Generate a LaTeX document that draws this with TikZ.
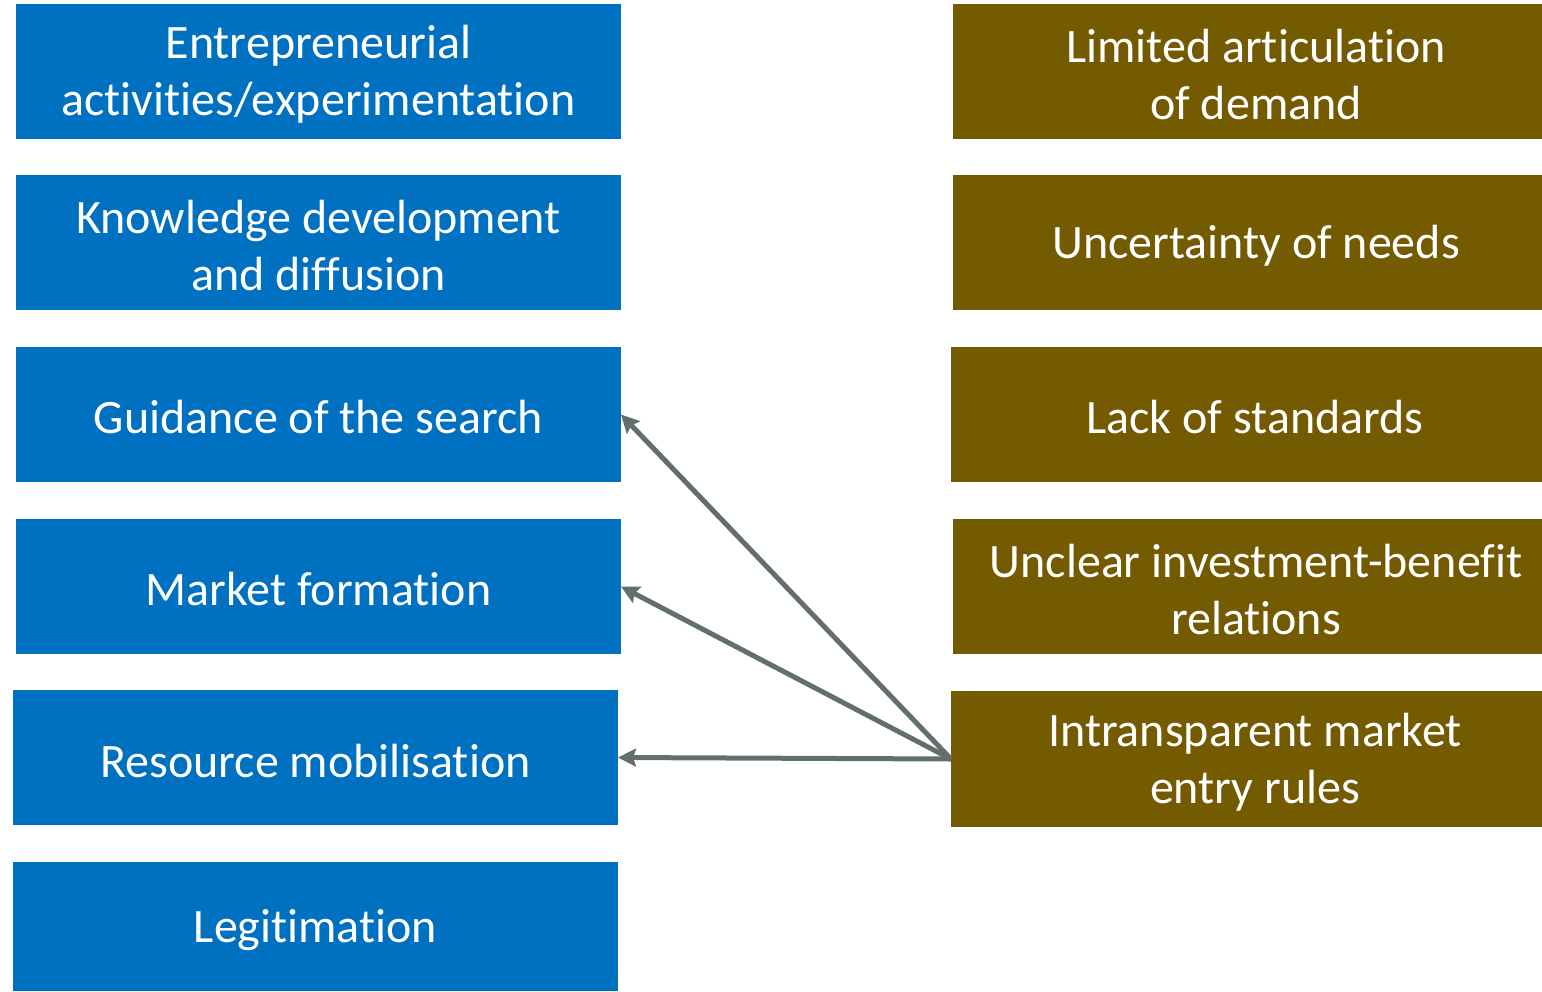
\documentclass[tikz,border=0pt]{standalone}
\usepackage{fontspec}
\setmainfont{Carlito}[RawFeature={-liga;-clig;-dlig;-calt}]
\usetikzlibrary{arrows.meta}
\definecolor{bluebox}{HTML}{0070C0}
\definecolor{brownbox}{HTML}{745A00}
\definecolor{arrowcol}{HTML}{637069}
\begin{document}
\begin{tikzpicture}[x=0.5pt,y=-0.5pt,
  box/.style={inner sep=0pt, outer sep=0pt},
  lbox/.style={box, fill=bluebox, minimum width=302.5pt, minimum height=67.5pt},
  rbox/.style={box, fill=brownbox, minimum width=303pt, minimum height=67.5pt},
  txt/.style={inner sep=0pt, text=white, align=center,
    font=\fontsize{24}{28.5}\selectfont},
  conn/.style={draw=arrowcol, line width=2.5pt,
    -{Stealth[length=9pt,width=9pt,inset=1.5pt]}}]
\useasboundingbox (0,0) rectangle (1542,991);
% left column
\node[lbox] (l1) at (318.5,71.5) {};
\node[lbox] (l2) at (318.5,242.5) {};
\node[lbox] (l3) at (318.5,414.5) {};
\node[lbox] (l4) at (318.5,586.5) {};
\node[lbox] (l5) at (315.5,757.5) {};
\node[lbox, minimum height=64.5pt] (l6) at (315.5,926.5) {};
% right column
\node[rbox] (r1) at (1256,71.5) {};
\node[rbox] (r2) at (1256,242.5) {};
\node[rbox, minimum width=304pt] (r3) at (1255,414.5) {};
\node[rbox] (r4) at (1256,586.5) {};
\node[rbox, minimum width=304pt, minimum height=68pt] (r5) at (1255,759) {};
% texts
\node[txt] (t1) at ([yshift=-1.5pt]l1.center) {Entrepreneurial\\activities/experimentation};
\node[txt] (t2) at ([yshift=-1.5pt]l2.center) {Knowledge development\\and diffusion};
\node[txt] (t3) at ([yshift=-1.5pt]l3.center) {Guidance of the search};
\node[txt] (t4) at ([yshift=-1.5pt]l4.center) {Market formation};
\node[txt] (t5) at ([yshift=-1.5pt]l5.center) {Resource mobilisation};
\node[txt] (t6) at ([yshift=-2pt]l6.center) {Legitimation};
\node[txt] (u1) at ([yshift=-1.5pt]r1.center) {Limited articulation\\of demand};
\node[txt] (u2) at ([yshift=-1.5pt]r2.center) {Uncertainty of needs};
\node[txt] (u3) at ([yshift=-1.5pt]r3.center) {Lack of standards};
\node[txt] (u4) at ([yshift=-1.5pt]r4.center) {Unclear investment-benefit\\relations};
\node[txt] (u5) at ([yshift=-1.5pt]r5.center) {Intransparent market\\entry rules};
% connectors
\draw[conn] (r5.west) -- (l3.east);
\draw[conn] (r5.west) -- (l4.east);
\draw[conn] (r5.west) -- (l5.east);
\end{tikzpicture}
\end{document}
